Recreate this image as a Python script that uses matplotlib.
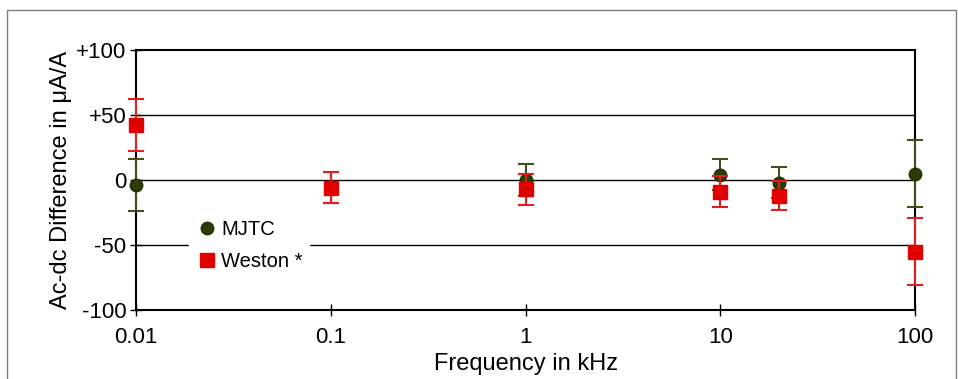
import numpy as np
import matplotlib.pyplot as plt
from matplotlib.patches import Rectangle
from matplotlib.lines import Line2D

plt.rcParams['font.family'] = ['Liberation Sans', 'DejaVu Sans']

# Messwerte
freq = [0.01, 0.1, 1, 10, 20, 100]
mjtc = [-4, -6, 0, 4, -2, 5]
mjtc_err = [20, 12, 12, 12, 12, 26]
freq_w = [0.01, 0.1, 1, 10, 20, 100]
weston = [42, -6, -7, -9, -12, -55]
weston_err = [20, 12, 12, 12, 11, 26]
yticks = [-100, -50, 0, 50, 100]
ylabels = ["-100", "-50", "0", "+50", "+100"]
xticks = [0.01, 0.1, 1, 10, 100]
xlabels = ["0.01", "0.1", "1", "10", "100"]

fig = plt.figure(figsize=(9.58, 3.79), dpi=100)
ax = fig.add_axes([136/958, 1-310/379, 779/958, 260/379])

# aeusserer Rahmen
fig.patches.append(Rectangle((7/958, -0.1), 949/958, 1.1 - 10/379, transform=fig.transFigure,
                             fill=False, edgecolor='#808080', linewidth=1))

c_m = '#2e3a08'
c_w = '#e00000'
e1 = ax.errorbar(freq, mjtc, yerr=mjtc_err, fmt='o', color='#4a4a1c', ecolor='#4a4a1c',
                 markerfacecolor=c_m, markeredgecolor='#173a00', markersize=9,
                 capsize=6, elinewidth=1.5, capthick=1.5, zorder=3)
e2 = ax.errorbar(freq_w, weston, yerr=weston_err, fmt='s', color=c_w, ecolor='#e02020',
                 markerfacecolor=c_w, markeredgecolor=c_w, markersize=10,
                 capsize=6, elinewidth=1.5, capthick=1.5, zorder=4)
for e in (e1, e2):
    for art in [e[0]] + list(e[1]) + list(e[2]):
        art.set_clip_on(False)

ax.set_xscale('log')
ax.set_xlim(0.01, 100)
ax.set_ylim(-100, 100)
ax.set_yticks(yticks)
ax.set_yticklabels(ylabels)
ax.set_xticks(xticks)
ax.set_xticklabels(xlabels)
ax.minorticks_off()
for y in [-50, 0, 50]:
    ax.axhline(y, color='black', linewidth=1, zorder=1)
for s in ax.spines.values():
    s.set_linewidth(1.5)
ax.tick_params(axis='both', direction='inout', length=8, width=1, labelsize=16)
ax.tick_params(axis='y', pad=3)
ax.tick_params(axis='x', pad=8)

ax.set_xlabel("Frequency in kHz", fontsize=17, labelpad=4)
ax.set_ylabel("Ac-dc Difference in μA/A", fontsize=17, labelpad=3)

handles = [Line2D([], [], linestyle='none', marker='o', markersize=9,
                  markerfacecolor=c_m, markeredgecolor='#173a00'),
           Line2D([], [], linestyle='none', marker='s', markersize=10,
                  markerfacecolor=c_w, markeredgecolor=c_w)]
leg = ax.legend(handles, ['MJTC', 'Weston *'], loc='upper left',
                bbox_to_anchor=(0.068, 0.37), frameon=True, fontsize=14.5,
                handletextpad=0.1, handlelength=1.2, borderpad=0.3, labelspacing=0.65,
                borderaxespad=0)
leg.get_frame().set_edgecolor('white')
leg.get_frame().set_facecolor('white')
leg.get_frame().set_alpha(1)
leg.set_zorder(5)

fig.savefig('out.png', dpi=100)
